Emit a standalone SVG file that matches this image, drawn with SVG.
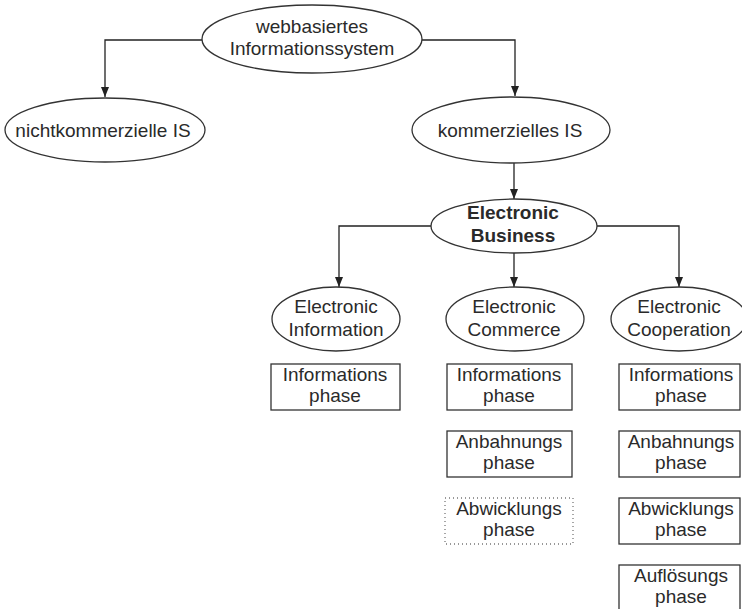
<svg xmlns="http://www.w3.org/2000/svg" width="742" height="609" viewBox="0 0 742 609">
<defs>
<marker id="arr" viewBox="0 0 10 10" refX="10" refY="5" markerWidth="10" markerHeight="10" markerUnits="userSpaceOnUse" orient="auto">
<path d="M0,1 L10,5 L0,9 Z" fill="#222"/>
</marker>
</defs>
<style>
.n{fill:#fff;stroke:#333;stroke-width:1.3}
.d{fill:#fff;stroke:#777;stroke-width:1.3;stroke-dasharray:1 3}
.t{font-family:"Liberation Sans",Arial,sans-serif;font-size:19px;fill:#2a2a2a;text-anchor:middle}
.b{font-weight:bold}
.c{fill:none;stroke:#222;stroke-width:1.3;marker-end:url(#arr)}
</style>
<rect width="742" height="609" fill="#fff"/>
<g id="connectors">
<path class="c" d="M202,40 H105 V97"/>
<path class="c" d="M422,40 H515 V96"/>
<path class="c" d="M514,163 V199"/>
<path class="c" d="M431,226 H339 V287"/>
<path class="c" d="M514,253 V287"/>
<path class="c" d="M597,226 H679 V287"/>
</g>
<g id="webIS"><ellipse class="n" cx="312" cy="39" rx="110" ry="34"/><text class="t" x="312" y="33">webbasiertes</text><text class="t" x="312" y="55">Informationssystem</text></g>
<g id="nichtkomm"><ellipse class="n" cx="105" cy="130" rx="100" ry="32"/><text class="t" x="103" y="137">nichtkommerzielle IS</text></g>
<g id="komm"><ellipse class="n" cx="511" cy="130" rx="99" ry="33"/><text class="t" x="510" y="137">kommerzielles IS</text></g>
<g id="eb"><ellipse class="n" cx="514" cy="226" rx="83" ry="27"/><text class="t b" x="513" y="219">Electronic</text><text class="t b" x="513" y="242">Business</text></g>
<g id="einfo"><ellipse class="n" cx="336" cy="319" rx="64" ry="32"/><text class="t" x="336" y="313">Electronic</text><text class="t" x="336" y="336">Information</text></g>
<g id="ecomm"><ellipse class="n" cx="515" cy="319" rx="69" ry="32"/><text class="t" x="514" y="313">Electronic</text><text class="t" x="514" y="336">Commerce</text></g>
<g id="ecoop"><ellipse class="n" cx="679" cy="319" rx="68" ry="32"/><text class="t" x="679" y="313">Electronic</text><text class="t" x="679" y="336">Cooperation</text></g>
<g id="p1i"><rect class="n" x="271" y="364" width="129" height="46"/><text class="t" x="335" y="381">Informations</text><text class="t" x="335" y="402">phase</text></g>
<g id="p2i"><rect class="n" x="447" y="364" width="125" height="46"/><text class="t" x="509" y="381">Informations</text><text class="t" x="509" y="402">phase</text></g>
<g id="p2a"><rect class="n" x="447" y="431" width="125" height="46"/><text class="t" x="509" y="448">Anbahnungs</text><text class="t" x="509" y="469">phase</text></g>
<g id="p2w"><rect class="d" x="445" y="498" width="128" height="46"/><text class="t" x="509" y="515">Abwicklungs</text><text class="t" x="509" y="536">phase</text></g>
<g id="p3i"><rect class="n" x="619" y="364" width="121" height="46"/><text class="t" x="681" y="381">Informations</text><text class="t" x="681" y="402">phase</text></g>
<g id="p3a"><rect class="n" x="619" y="431" width="121" height="46"/><text class="t" x="681" y="448">Anbahnungs</text><text class="t" x="681" y="469">phase</text></g>
<g id="p3w"><rect class="n" x="619" y="498" width="121" height="46"/><text class="t" x="681" y="515">Abwicklungs</text><text class="t" x="681" y="536">phase</text></g>
<g id="p3f"><rect class="n" x="619" y="565" width="121" height="50"/><text class="t" x="681" y="582">Auflösungs</text><text class="t" x="681" y="603">phase</text></g>
</svg>
